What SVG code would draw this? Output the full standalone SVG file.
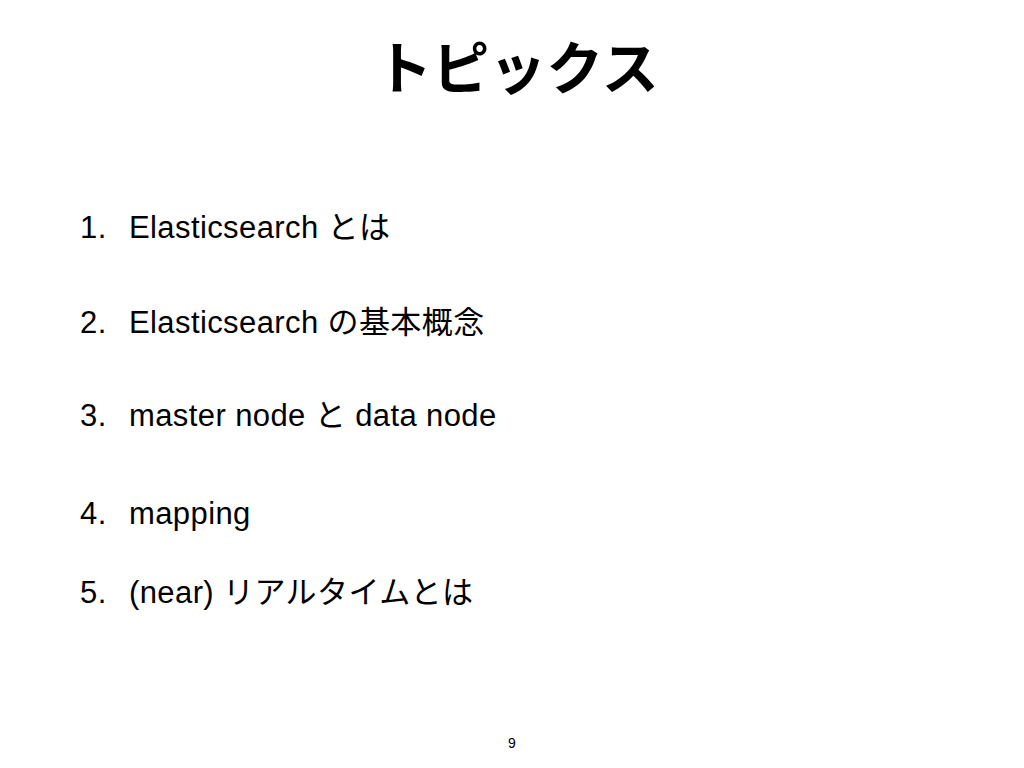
<svg xmlns="http://www.w3.org/2000/svg" width="1024" height="768" viewBox="0 0 1024 768">
<style>
.t{font-family:"Liberation Sans","Noto Sans CJK JP",sans-serif;fill:#000}
.item{font-size:31px;letter-spacing:0.4px}
</style>
<rect width="1024" height="768" fill="#fff"/>
<text class="t" x="517" y="89" font-size="57" font-weight="bold" text-anchor="middle" font-family="'Noto Sans CJK JP',sans-serif">トピックス</text>
<g id="list" class="t item">
<text x="80" y="238">1.</text><text x="129" y="238">Elasticsearch とは</text>
<text x="80" y="333">2.</text><text x="129" y="333">Elasticsearch の基本概念</text>
<text x="80" y="426">3.</text><text x="129" y="426">master node と data node</text>
<text x="80" y="524">4.</text><text x="129" y="524">mapping</text>
<text x="80" y="603">5.</text><text x="129" y="603">(near) リアルタイムとは</text>
</g>
<text class="t" x="512" y="748" font-size="14" text-anchor="middle">9</text>
</svg>
